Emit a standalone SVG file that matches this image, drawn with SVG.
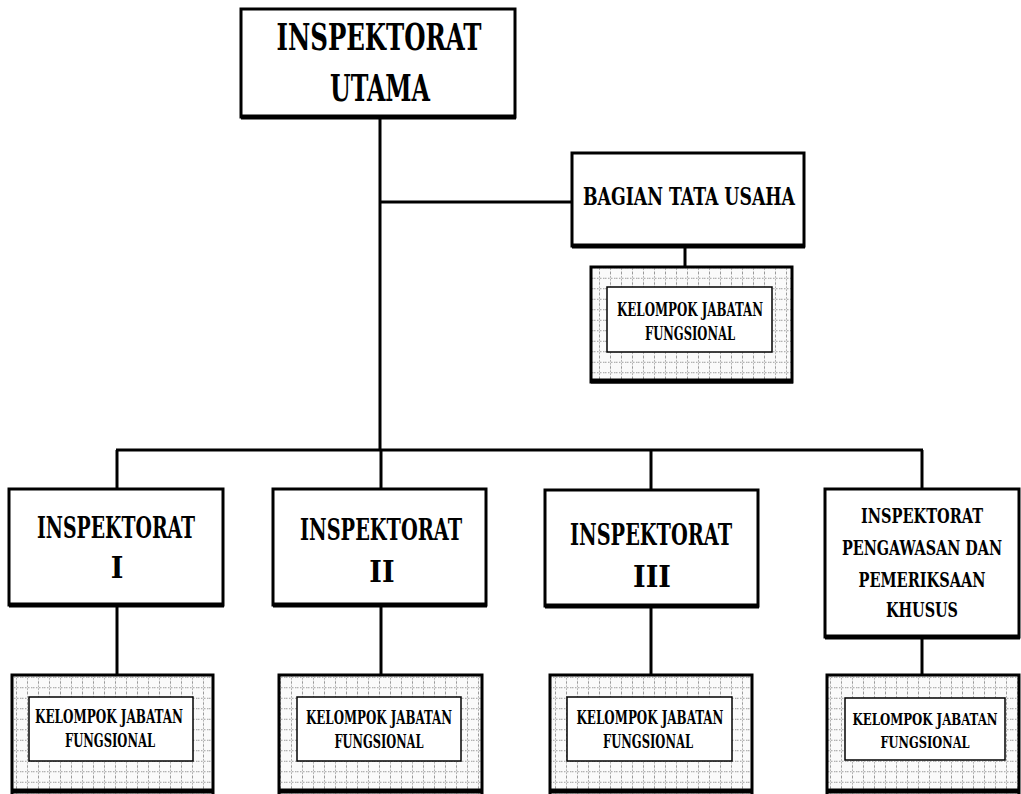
<svg xmlns="http://www.w3.org/2000/svg" width="1021" height="794" viewBox="0 0 1021 794">
<style>
.box{fill:#fff;stroke:#000;stroke-width:3}
.sh{stroke:#000;stroke-width:5;fill:none}
.kjf{fill:url(#grid);stroke:#000;stroke-width:3}
.inner{fill:#fff;stroke:#000;stroke-width:1.5}
.t{font-family:"DejaVu Serif Condensed","DejaVu Serif","Liberation Serif",serif;font-weight:bold;fill:#000;text-anchor:middle}
.big{font-size:38px}
.mid{font-size:30px}
.bag{font-size:25px}
.sm{font-size:20px}
.k{font-size:18px}
.ks{font-size:17px}
.ln{stroke:#000;stroke-width:3;fill:none}
</style>
<defs>
<pattern id="grid" patternUnits="userSpaceOnUse" width="11" height="10.5">
<rect width="11" height="10.5" fill="#fafafa"/>
<line x1="5.5" y1="0" x2="5.5" y2="10.5" stroke="#999" stroke-width="1" stroke-dasharray="1.5,1.5"/>
<line x1="0" y1="5.25" x2="11" y2="5.25" stroke="#999" stroke-width="1" stroke-dasharray="1.5,1.5"/>
</pattern>
</defs>
<rect width="1021" height="794" fill="#fff"/>

<g id="connectors">
<line class="ln" x1="380" y1="117" x2="380" y2="450"/>
<line class="ln" x1="380" y1="202" x2="572" y2="202"/>
<line class="ln" x1="685" y1="247" x2="685" y2="267"/>
<line class="ln" x1="116" y1="450" x2="923" y2="450"/>
<line class="ln" x1="117" y1="450" x2="117" y2="489"/>
<line class="ln" x1="381" y1="450" x2="381" y2="489"/>
<line class="ln" x1="651" y1="450" x2="651" y2="490"/>
<line class="ln" x1="922" y1="450" x2="922" y2="489"/>
<line class="ln" x1="117" y1="605" x2="117" y2="675"/>
<line class="ln" x1="381" y1="605" x2="381" y2="675"/>
<line class="ln" x1="651" y1="606" x2="651" y2="675"/>
<line class="ln" x1="922" y1="637" x2="922" y2="675"/>
</g>

<g id="inspektorat-utama">
<rect class="box" x="241" y="9" width="274" height="108"/>
<line class="sh" x1="241" y1="117" x2="516" y2="117"/>
<text class="t big" x="379" y="50" textLength="205" lengthAdjust="spacingAndGlyphs">INSPEKTORAT</text>
<text class="t big" x="380" y="101" textLength="100" lengthAdjust="spacingAndGlyphs">UTAMA</text>
</g>

<g id="bagian-tata-usaha">
<rect class="box" x="572" y="153" width="232" height="93"/>
<line class="sh" x1="572" y1="246" x2="805" y2="246"/>
<text class="t bag" x="689" y="205" textLength="212" lengthAdjust="spacingAndGlyphs">BAGIAN TATA USAHA</text>
</g>

<g id="kjf-tu">
<rect class="kjf" x="591" y="267" width="201" height="115"/>
<line class="sh" x1="591" y1="381" x2="793" y2="381"/>
<rect class="inner" x="607" y="287" width="165" height="65"/>
<text class="t k" x="690" y="316" textLength="146" lengthAdjust="spacingAndGlyphs">KELOMPOK JABATAN</text>
<text class="t k" x="690" y="340" textLength="90" lengthAdjust="spacingAndGlyphs">FUNGSIONAL</text>
</g>

<g id="inspektorat-1">
<rect class="box" x="9" y="489" width="214" height="116"/>
<line class="sh" x1="9" y1="605" x2="224" y2="605"/>
<text class="t mid" x="116" y="538" textLength="158" lengthAdjust="spacingAndGlyphs">INSPEKTORAT</text>
<text class="t mid" x="117" y="578">I</text>
</g>

<g id="inspektorat-2">
<rect class="box" x="273" y="489" width="213" height="116"/>
<line class="sh" x1="273" y1="605" x2="487" y2="605"/>
<text class="t mid" x="381" y="540" textLength="162" lengthAdjust="spacingAndGlyphs">INSPEKTORAT</text>
<text class="t mid" x="382" y="582">II</text>
</g>

<g id="inspektorat-3">
<rect class="box" x="545" y="490" width="213" height="116"/>
<line class="sh" x1="545" y1="606" x2="759" y2="606"/>
<text class="t mid" x="651" y="545" textLength="162" lengthAdjust="spacingAndGlyphs">INSPEKTORAT</text>
<text class="t mid" x="652" y="587">III</text>
</g>

<g id="inspektorat-ppk">
<rect class="box" x="825" y="489" width="194" height="148"/>
<line class="sh" x1="825" y1="637" x2="1020" y2="637"/>
<text class="t sm" x="922" y="523" textLength="122" lengthAdjust="spacingAndGlyphs">INSPEKTORAT</text>
<text class="t sm" x="922" y="555" textLength="160" lengthAdjust="spacingAndGlyphs">PENGAWASAN DAN</text>
<text class="t sm" x="922" y="587" textLength="127" lengthAdjust="spacingAndGlyphs">PEMERIKSAAN</text>
<text class="t sm" x="922" y="617" textLength="72" lengthAdjust="spacingAndGlyphs">KHUSUS</text>
</g>

<g id="kjf-1">
<rect class="kjf" x="12" y="675" width="201" height="125"/>
<line class="sh" x1="12" y1="791" x2="214" y2="791"/>
<rect class="inner" x="29" y="697" width="164" height="64"/>
<text class="t k" x="109" y="723" textLength="148" lengthAdjust="spacingAndGlyphs">KELOMPOK JABATAN</text>
<text class="t k" x="110" y="747" textLength="90" lengthAdjust="spacingAndGlyphs">FUNGSIONAL</text>
</g>

<g id="kjf-2">
<rect class="kjf" x="279" y="675" width="203" height="125"/>
<line class="sh" x1="279" y1="791" x2="483" y2="791"/>
<rect class="inner" x="297" y="697" width="164" height="64"/>
<text class="t k" x="379" y="724" textLength="146" lengthAdjust="spacingAndGlyphs">KELOMPOK JABATAN</text>
<text class="t k" x="379" y="748" textLength="89" lengthAdjust="spacingAndGlyphs">FUNGSIONAL</text>
</g>

<g id="kjf-3">
<rect class="kjf" x="550" y="675" width="202" height="125"/>
<line class="sh" x1="550" y1="791" x2="753" y2="791"/>
<rect class="inner" x="567" y="697" width="165" height="64"/>
<text class="t k" x="650" y="724" textLength="147" lengthAdjust="spacingAndGlyphs">KELOMPOK JABATAN</text>
<text class="t k" x="648" y="748" textLength="90" lengthAdjust="spacingAndGlyphs">FUNGSIONAL</text>
</g>

<g id="kjf-ppk">
<rect class="kjf" x="827" y="675" width="192" height="125"/>
<line class="sh" x1="827" y1="791" x2="1020" y2="791"/>
<rect class="inner" x="845" y="698" width="160" height="62"/>
<text class="t ks" x="925" y="725" textLength="145" lengthAdjust="spacingAndGlyphs">KELOMPOK JABATAN</text>
<text class="t ks" x="925" y="748" textLength="89" lengthAdjust="spacingAndGlyphs">FUNGSIONAL</text>
</g>
</svg>
